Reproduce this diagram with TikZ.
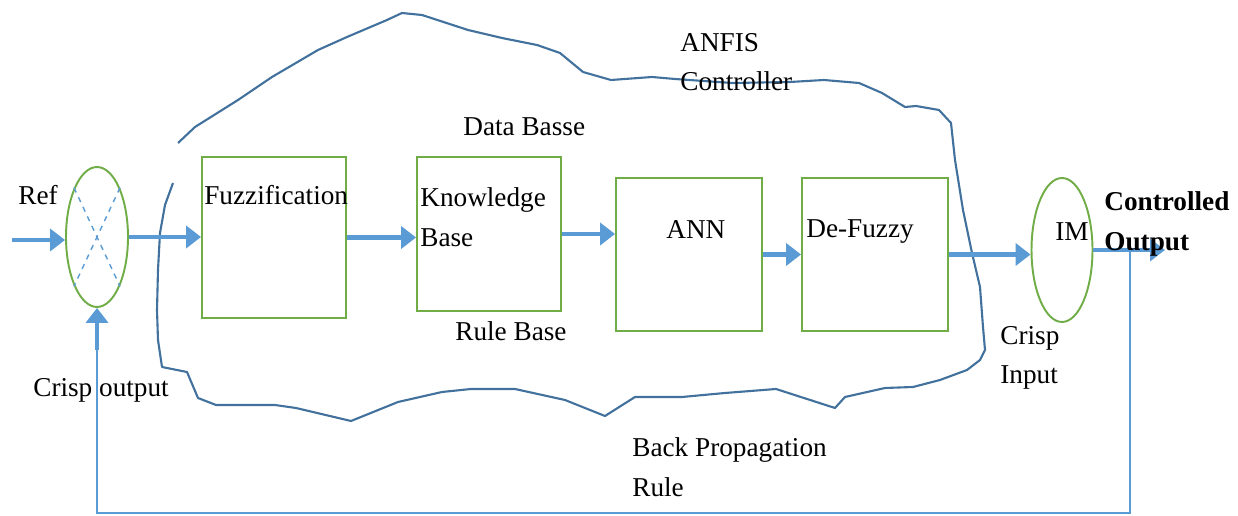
\documentclass[tikz,border=0pt]{standalone}
\usepackage{fontspec}
\setmainfont{Liberation Serif}
\usetikzlibrary{shapes.geometric,arrows.meta,positioning,calc}
\definecolor{FlowBlue}{HTML}{5B9BD5}
\definecolor{BoxGreen}{HTML}{70AD47}
\definecolor{CloudBlue}{HTML}{41719C}

\begin{document}
\begin{tikzpicture}[
    x=0.02cm, y=-0.02cm,
    font=\fontsize{15.5}{22.5}\selectfont,
    blockbox/.style={draw=BoxGreen, line width=1.1pt, minimum width=2.92cm, minimum height=3.06cm},
    junction/.style={ellipse, draw=BoxGreen, line width=1.1pt, inner sep=0pt, minimum width=1.24cm, minimum height=2.8cm},
    lbl/.style={inner sep=0pt, align=left, anchor=west},
    flow/.style={draw=FlowBlue, line width=2.6pt, -{Triangle[length=8.5pt, width=12.5pt]}},
    feedline/.style={draw=FlowBlue, line width=1.2pt},
    crossline/.style={draw=FlowBlue, line width=0.8pt, dashed}
]
  \useasboundingbox (0,0) rectangle (1238,516);

  % -------------------------------------------------------------
  % ANFIS CONTROLLER CLOUD
  % -------------------------------------------------------------
  \draw[CloudBlue, line width=1.2pt, line join=round]
    (173,183) -- (165,205) -- (160,233) -- (158,270) -- (157,310) -- (158,340)
    -- (162,367) -- (187,372) -- (198,398) -- (216,405) -- (275,405) -- (296,408)
    -- (351,421) -- (398,402) -- (442,392) -- (471,389) -- (515,389) -- (565,400)
    -- (605,416) -- (635,397) -- (682,397) -- (725,393) -- (776,389) -- (835,408)
    -- (845,397) -- (885,388) -- (913,387) -- (940,380) -- (967,370) -- (980,360)
    -- (985,350) -- (983,327) -- (980,287) -- (972,253) -- (963,210) -- (955,160)
    -- (951,123) -- (939,110) -- (916,106) -- (905,107) -- (882,93) -- (859,83)
    -- (824,80) -- (790,82) -- (732,83) -- (675,79) -- (652,77) -- (611,80)
    -- (583,72) -- (560,53) -- (537,45) -- (502,38) -- (468,30) -- (422,15)
    -- (402,13) -- (387,20) -- (347,37) -- (318,50) -- (272,77) -- (238,100)
    -- (195,127) -- (178,143);

  % -------------------------------------------------------------
  % BLOCKS
  % -------------------------------------------------------------
  \node[junction] (sum) at (97,237) {};
  \draw[crossline] (sum.115) -- (sum.-65);
  \draw[crossline] (sum.65) -- (sum.-115);

  \node[blockbox, minimum width=2.88cm, minimum height=3.22cm] (fuzz) at (274,237.5) {};
  \node[blockbox, minimum width=2.88cm, minimum height=3.08cm] (know) at (489,234) {};
  \node[blockbox] (ann) at (689,254.5) {};
  \node[blockbox] (defuz) at (875,254.5) {};
  \node[junction, minimum width=1.22cm, minimum height=2.88cm] (im) at (1062,250) {};

  % texts
  \node[lbl] (reftxt) at (18,195) {Ref};
  \node[lbl] (fuzztxt) at (204,195) {Fuzzification};
  \node[lbl] (knowtxt) at (420,217) {Knowledge\\Base};
  \node[lbl] (datatxt) at (463,127) {Data Basse};
  \node[lbl] (ruletxt) at (455,331) {Rule Base};
  \node[lbl] (anfistxt) at (680,62) {ANFIS\\Controller};
  \node[lbl] (anntxt) at (666,230) {ANN};
  \node[lbl] (defuztxt) at (806,232) {De-Fuzzy};
  \node[lbl] (imtxt) at (1055,232) {IM};
  \node[lbl] (crispout) at (33,390) {Crisp output};
  \node[lbl] (crispin) at (1000,358) {Crisp\\Input};
  \node[lbl] (bptxt) at (632,467) {Back Propagation\\Rule};

  % -------------------------------------------------------------
  % SIGNAL FLOW
  % -------------------------------------------------------------
  \coordinate (refin) at (12,240);
  \coordinate (out) at (1165,250);
  \coordinate (tap) at (1130,250);
  \coordinate (fbl) at (97,513);
  \coordinate (fbup) at (97,350);

  \draw[flow] (refin) -- (refin -| sum.west);
  \draw[flow] (sum.east) -- (sum.east -| fuzz.west);
  \draw[flow] (fuzz.east) -- (fuzz.east -| know.west);
  \draw[flow] (know.east) -- (know.east -| ann.west);
  \draw[flow] (ann.east) -- (ann.east -| defuz.west);
  \draw[flow] (defuz.east) -- (defuz.east -| im.west);
  \draw[flow] (im.east) -- (out);

  \node[lbl, font=\fontsize{15.5}{22.5}\selectfont\bfseries] (ctrlout) at (1104,224) {Controlled\\Output};

  % feedback
  \draw[feedline] (tap) -- (tap |- fbl) -- (fbl) -- (fbup);
  \draw[flow] (fbup) -- (sum.south);

\end{tikzpicture}
\end{document}
